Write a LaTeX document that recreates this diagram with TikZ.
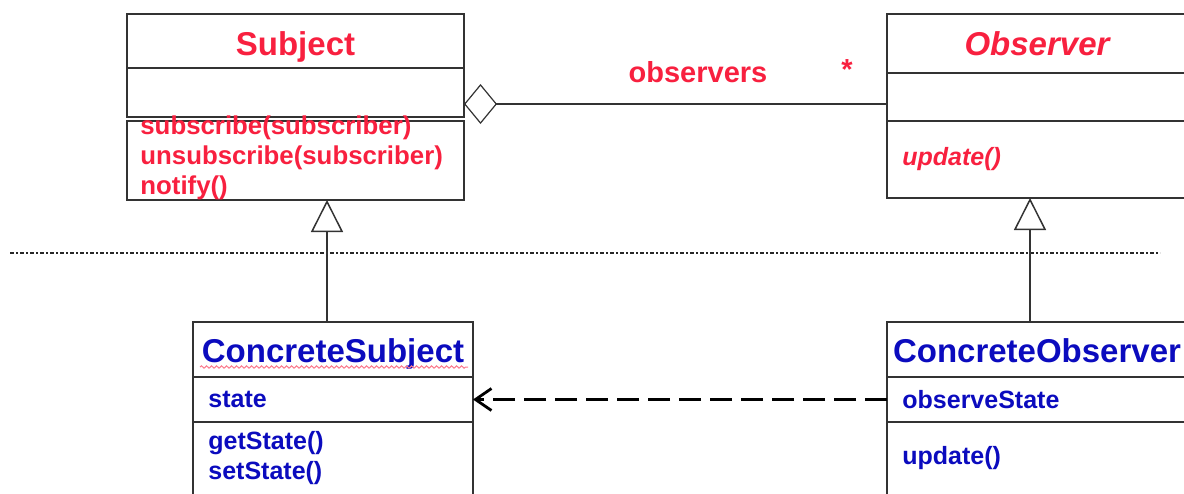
\documentclass[tikz,border=0pt]{standalone}
\usepackage{fontspec}
\setmainfont{Liberation Sans}
\usetikzlibrary{arrows.meta, positioning, decorations.pathmorphing}

\definecolor{umlred}{HTML}{F8203F}
\definecolor{umlblue}{HTML}{0B0BBE}
\definecolor{umlline}{HTML}{333333}

\tikzset{
  compart/.style={draw=umlline, line width=0.75pt, rectangle, inner sep=0pt, outer sep=0pt},
  clsname/.style={compart, font=\fontsize{16.5}{20}\selectfont\bfseries, text depth=0pt},
  member/.style={font=\fontsize{12.5}{15}\selectfont\bfseries, align=left, inner sep=0pt},
  role/.style={font=\fontsize{14.5}{17}\selectfont\bfseries, text=umlred, inner sep=0pt},
  inherit/.style={draw=umlline, line width=0.75pt, -{Triangle[open, length=16pt, width=16pt]}},
  aggr/.style={draw=umlline, line width=0.6pt, -{Diamond[open, length=16.5pt, width=20pt]}},
  depend/.style={line width=1.4pt, dash pattern=on 11pt off 4.5pt, -{Straight Barb[length=8pt, width=11pt]}},
  separator/.style={draw=black!85, line width=0.75pt, dash pattern=on 2.2pt off 1pt on 0.8pt off 1pt}
}

\begin{document}
\begin{tikzpicture}[x=0.5pt, y=-0.5pt]
  \useasboundingbox (0,0) rectangle (1184,493);

  % abstract side
  \node[clsname, text=umlred, text height=14pt, minimum width=168.5pt, minimum height=27pt] (subjName) at (295.5,41) {Subject};
  \node[compart, minimum width=168.5pt, minimum height=24.5pt] (subjAttr) at (295.5,92.5) {};
  \node[compart, minimum width=168.5pt, minimum height=39.5pt] (subjOps) at (295.5,160.5) {};
  \node[member, text=umlred, font=\fontsize{12.9}{15}\selectfont\bfseries,
        right=6.5pt of subjOps.west, yshift=1.25pt] (subjOpsTxt)
    {subscribe(subscriber)\\unsubscribe(subscriber)\\notify()};

  \node[clsname, text=umlred, font=\fontsize{16.5}{20}\selectfont\bfseries\itshape, text height=11.5pt,
        minimum width=150pt, minimum height=29.5pt] (obsName) at (1037,43.5) {Observer};
  \node[compart, minimum width=150pt, minimum height=24pt] (obsAttr) at (1037,97) {};
  \node[compart, minimum width=150pt, minimum height=38.5pt] (obsOps) at (1037,159.5) {};
  \node[member, text=umlred, font=\fontsize{12.5}{15}\selectfont\bfseries\itshape,
        right=7.5pt of obsOps.west] (obsOpsTxt) {update()};

  \coordinate (obsHook) at (887,104);
  \draw[aggr] (obsHook) -- (obsHook -| subjAttr.east);
  \node[role] (obsRole) at (698,72) {observers};
  \node[role] (obsMult) at (847,70) {*};

  \draw[separator] (10,253) -- (1160,253);

  % concrete side
  \node[clsname, text=umlblue, text height=12.5pt, minimum width=140pt, minimum height=27.5pt] (csName) at (333,349.5) {ConcreteSubject};
  \draw[umlred!60, line width=0.5pt, decorate, decoration={snake, amplitude=0.6pt, segment length=2.5pt}]
    ([xshift=3.5pt,yshift=5pt]csName.south west) -- ([xshift=-2.5pt,yshift=5pt]csName.south east);
  \node[compart, minimum width=140pt, minimum height=22.5pt] (csAttr) at (333,399.5) {};
  \node[compart, minimum width=140pt, minimum height=49pt] (csOps) at (333,471) {};
  \node[member, text=umlblue, right=7.5pt of csAttr.west] (csAttrTxt) {state};
  \node[member, text=umlblue, below right=4.5pt and 7.5pt of csOps.north west] (csOpsTxt)
    {getState()\\setState()};

  \node[clsname, text=umlblue, text height=12.5pt, minimum width=150pt, minimum height=27.5pt] (coName) at (1037,349.5) {ConcreteObserver};
  \node[compart, minimum width=150pt, minimum height=22.5pt] (coAttr) at (1037,399.5) {};
  \node[compart, minimum width=150pt, minimum height=49pt] (coOps) at (1037,471) {};
  \node[member, text=umlblue, right=7.5pt of coAttr.west] (coAttrTxt) {observeState};
  \node[member, text=umlblue, below right=12pt and 7.5pt of coOps.north west] (coOpsTxt) {update()};

  \draw[inherit] ([xshift=-3pt]csName.north) -- ([xshift=-3pt]csName.north |- subjOps.south);
  \draw[inherit] ([xshift=-3.5pt]coName.north) -- ([xshift=-3.5pt]coName.north |- obsOps.south);
  \draw[depend] (coAttr.west) -- (csAttr.east);
\end{tikzpicture}
\end{document}
